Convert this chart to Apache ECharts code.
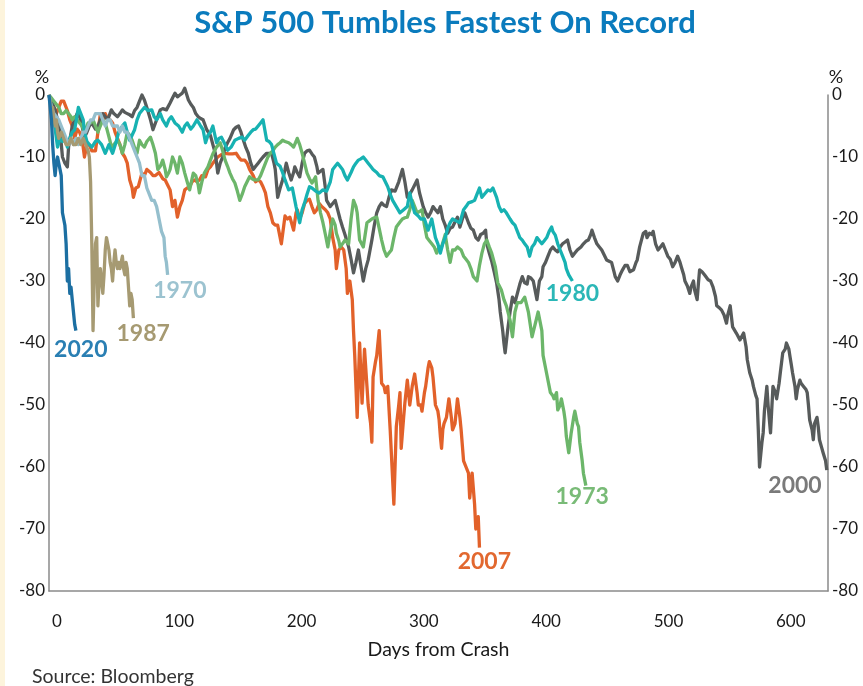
<!DOCTYPE html>
<html>
<head>
<meta charset="utf-8">
<script src="https://cdn.jsdelivr.net/npm/echarts@6/dist/echarts.min.js"></script>
<style>
html,body{margin:0;padding:0;background:#fff;}
#c{width:863px;height:686px;}
</style>
</head>
<body>
<div id="c"></div>
<script>
// ---- Data: [trading day from peak, % change from peak] ----
const s2020 = [[0,0],[1,-2],[2,-4],[3,-8],[4,-11],[5,-13],[6,-11],[7,-10],[8,-11],[9,-12],[10,-13],[11,-19],[12,-20],[13,-21],[14,-24],[15,-30],[16,-28],[17,-32],[18,-31],[19,-33],[20,-35],[21,-37],[22,-38]];

const s1987 = [[0,0],[1,-1],[2,-3],[3,-2],[4,-4],[5,-5],[6,-4],[7,-6],[8,-7],[10,-6],[12,-7],[14,-8],[16,-8],[18,-7],[20,-8],[22,-8],[24,-7],[26,-8],[28,-7],[30,-8],[32,-9],[33,-10],[34,-14],[35,-24],[36,-38],[37,-30],[38,-24],[39,-23],[40,-34],[41,-30],[42,-28],[43,-30],[44,-32],[45,-29],[46,-25],[47,-23],[48,-24],[49,-25],[50,-27],[51,-28],[52,-30],[53,-27],[54,-25],[55,-27],[56,-28],[57,-27],[58,-28],[59,-27],[60,-26],[61,-28],[62,-29],[63,-27],[64,-28],[65,-31],[66,-34],[67,-32],[68,-33],[69,-36]];

const s1970 = [[0,0],[2,-2],[4,-3],[6,-3.5],[8,-4],[10,-5],[12,-6],[14,-7],[16,-8],[18,-7],[20,-8],[22,-7],[24,-8],[26,-7],[28,-6],[30,-6],[32,-5],[34,-4],[36,-4],[38,-3],[40,-3],[42,-3],[44,-4],[46,-5],[48,-4],[50,-4],[52,-5],[54,-5],[56,-5],[58,-6],[60,-5],[62,-6],[64,-6],[66,-7],[68,-8],[70,-9],[72,-10],[74,-11],[76,-13],[78,-13],[80,-15],[82,-16],[84,-17],[86,-17],[88,-18],[90,-20],[92,-22],[94,-23],[95,-26],[96,-27],[97,-29]];

const s2007 = [[0,0],[2,-1],[4,-2],[6,-3],[8,-2],[10,-1],[12,-1],[13,-1],[15,-2.5],[17,-4],[19,-5],[21,-7],[23,-5.5],[25,-6],[27,-7],[29,-10],[31,-8],[33,-8],[35,-9],[38,-9],[40,-6],[42,-3],[44,-4],[46,-3],[48,-4],[50,-4],[52,-4.5],[54,-6],[56,-7],[58,-8],[60,-9.4],[62,-10],[64,-11],[66,-13.7],[68,-15],[69,-16.5],[71,-15],[73,-14.8],[76,-12.6],[78,-13],[80,-12],[83,-12.5],[85,-13],[87,-13],[90,-12.5],[93,-13.5],[95,-13.7],[97,-14.5],[99,-15.3],[101,-18],[103,-17],[105,-19.7],[107,-18],[109,-17],[111,-15.3],[113,-15],[115,-14.8],[117,-14],[119,-13.7],[121,-14],[123,-13.7],[125,-13],[128,-13.2],[130,-12],[132,-11.6],[134,-11],[136,-10.5],[138,-10],[141,-9.6],[144,-9.4],[147,-9.5],[150,-9.5],[153,-9.4],[155,-10],[157,-10.5],[160,-10.5],[162,-11],[164,-12],[167,-13],[169,-14],[171,-13.7],[173,-14],[175,-14.8],[177,-15.8],[179,-18],[181,-19],[183,-20.6],[185,-21],[187,-21],[188,-22],[190,-24],[192,-21],[193,-19.5],[195,-20],[197,-19.7],[198,-20],[200,-21.8],[202,-19],[203,-18.5],[205,-20],[207,-19],[209,-17.5],[211,-17],[213,-16.8],[215,-18],[217,-19],[219,-18.5],[221,-17.5],[223,-18],[226,-18.5],[228,-19],[230,-20],[232,-23],[234,-25],[235,-28],[237,-25],[239,-24.5],[241,-25],[243,-28],[244,-32],[246,-30],[248,-33],[249,-38],[250,-42],[252,-52],[254,-40],[256,-49.7],[258,-41],[260,-47],[261,-50],[263,-53],[264,-56],[265,-45.5],[267,-43],[268,-42],[270,-38],[272,-46.5],[274,-47],[275,-48],[277,-47],[279,-54],[280,-58],[282,-66],[284,-53.5],[286,-50],[287,-48],[288,-57],[290,-52],[291,-49.7],[293,-46],[295,-50],[297,-47],[299,-45],[301,-48],[302,-50],[304,-50],[305,-51],[307,-48],[308,-47],[310,-44],[311,-43],[313,-44],[314,-45.5],[316,-50],[318,-51],[319,-52.4],[320,-55],[321,-57],[322,-54],[323,-53],[325,-52],[327,-49],[329,-52],[330,-54],[332,-53],[334,-49],[336,-52],[337,-54],[339,-59],[341,-60],[343,-61],[344,-65],[346,-61],[348,-66],[349,-70],[351,-68],[352,-73]];

const s1980 = [[0,0],[2,-2],[4,-4],[5,-4],[7,-8.4],[9,-7],[11,-7.5],[13,-7],[15,-8.4],[17,-7],[19,-6],[21,-5.6],[24,-2],[26,-3],[28,-4],[29,-6],[31,-7.5],[33,-8],[35,-8.4],[38,-7.5],[40,-7.3],[43,-8],[46,-9.4],[49,-8],[52,-9.4],[55,-7.5],[57,-6],[60,-5],[62,-4.5],[64,-6],[66,-7.3],[70,-5.6],[72,-4],[74,-3],[76,-2.5],[78,-2],[81,-2.5],[84,-2.4],[86,-3.5],[88,-4],[91,-3],[93,-4],[96,-5],[98,-4],[100,-3.5],[103,-4.5],[106,-5],[109,-6],[111,-5],[113,-4.5],[116,-5.5],[118,-5],[121,-4],[124,-5],[126,-5.6],[128,-7.7],[130,-6.5],[132,-6],[134,-5],[137,-7.7],[139,-7],[141,-6.8],[144,-8],[146,-8.9],[149,-8.4],[152,-7.3],[155,-7],[158,-6.8],[160,-7.3],[163,-6.5],[165,-6],[167,-5.6],[169,-5.5],[171,-5],[173,-4.5],[175,-4],[178,-7.3],[180,-7.5],[182,-8],[184,-9.5],[186,-11],[189,-11.5],[191,-12.5],[193,-13.7],[196,-15.3],[199,-15],[202,-18],[205,-20.6],[207,-18.5],[209,-17.4],[211,-16],[213,-14.8],[215,-15],[218,-15.5],[221,-15.8],[224,-15.3],[227,-15.5],[230,-14],[232,-12],[234,-11.5],[236,-11],[238,-11.5],[240,-12],[242,-13],[244,-13.7],[247,-12.5],[249,-11.6],[251,-11],[253,-10.5],[255,-10.3],[257,-10],[259,-10.5],[261,-11],[263,-11.5],[265,-12],[268,-12.5],[270,-13],[273,-13.2],[275,-14],[277,-14.8],[279,-16],[281,-17],[284,-18],[287,-19],[290,-18.5],[293,-18],[295,-15.8],[297,-17.5],[299,-19],[302,-19.5],[304,-20],[307,-20],[310,-21.8],[313,-20],[316,-23],[318,-24],[320,-25.5],[322,-24],[324,-23],[326,-21.5],[328,-20.6],[330,-20],[333,-20.3],[336,-20.6],[339,-18.5],[341,-18],[343,-17.4],[346,-17.2],[348,-17],[350,-16],[352,-15],[354,-16.5],[356,-16],[359,-15.3],[361,-15.5],[363,-15],[366,-16.5],[368,-18],[370,-18.8],[372,-18.5],[374,-19],[377,-20],[379,-20.6],[381,-21],[383,-22],[385,-23],[387,-23.4],[389,-24],[391,-24.5],[393,-26],[395,-24.5],[397,-24],[399,-23],[401,-23.5],[403,-24],[405,-23.5],[407,-23],[409,-22],[411,-21.3],[412,-22],[414,-22.6],[416,-24],[418,-25],[420,-26],[422,-27],[423,-28],[425,-29],[428,-30]];

const s1973 = [[0,0],[2,-0.5],[4,-1],[6,-1.5],[8,-2],[10,-3],[12,-3],[14,-2.5],[16,-3],[18,-3.5],[19,-4],[21,-3.5],[23,-4],[25,-4.5],[27,-5],[29,-6],[31,-5],[32,-4.5],[34,-4.5],[36,-4],[38,-5],[40,-6],[42,-5],[44,-4],[46,-4.5],[48,-6],[50,-7.5],[51,-8.4],[53,-8],[56,-7.3],[58,-8],[60,-9.4],[62,-8],[64,-6],[66,-6.5],[68,-7.3],[70,-8.5],[72,-9.4],[74,-7.3],[76,-8],[78,-8.4],[80,-7.5],[83,-6.8],[85,-8],[87,-9.4],[89,-12],[91,-11.5],[93,-10.5],[95,-12],[96,-13.2],[98,-12.5],[99,-12],[101,-10],[103,-11],[105,-12.6],[107,-10],[109,-11],[111,-12.6],[113,-14],[115,-15.3],[117,-13.5],[118,-12.6],[120,-13],[122,-14.5],[123,-15.8],[125,-14],[127,-12.6],[130,-11.6],[132,-10.5],[134,-9.5],[137,-8.4],[140,-7.7],[142,-9],[144,-10.5],[146,-11.5],[148,-12.6],[150,-13.5],[152,-14.2],[154,-15.5],[156,-17],[158,-16],[160,-14.8],[162,-14],[164,-13.2],[166,-13.5],[168,-13.7],[171,-13.7],[173,-13],[175,-12],[177,-11],[179,-10],[181,-9.4],[183,-9],[185,-8.4],[187,-8],[189,-7.7],[191,-7.3],[193,-7.5],[196,-7.7],[198,-8],[200,-8.4],[202,-7.5],[203,-7],[205,-8],[207,-9.4],[209,-11],[211,-12.6],[213,-13.5],[215,-14.2],[218,-13.2],[220,-17],[222,-19],[224,-20.6],[226,-22.5],[228,-24.5],[230,-22],[232,-20],[234,-21],[235,-22.3],[237,-23.5],[238,-24.5],[240,-24],[242,-23.4],[245,-24],[247,-20],[249,-17],[251,-18],[252,-19],[254,-23.4],[257,-24.5],[260,-20.6],[262,-20.3],[264,-20],[266,-19.8],[268,-19.7],[270,-21.5],[272,-23.4],[274,-25],[276,-26],[278,-25.5],[280,-25],[282,-23],[284,-21.3],[287,-20.5],[289,-20],[291,-19.8],[293,-19.7],[295,-18.5],[297,-17],[299,-18],[301,-19],[303,-18.8],[305,-18.5],[307,-21],[309,-23],[311,-23.5],[313,-24],[315,-24.5],[317,-25.5],[319,-24.5],[321,-24.5],[324,-22.5],[326,-25],[328,-27],[330,-25],[332,-25],[334,-24.5],[337,-25],[339,-26],[341,-26.5],[343,-27],[345,-28],[347,-29.3],[350,-30],[352,-27.5],[354,-25.5],[356,-24],[358,-23.4],[360,-24.5],[362,-25.5],[365,-27.7],[367,-30.3],[370,-31.5],[372,-33],[374,-34],[377,-36.3],[379,-39],[381,-35],[383,-33.5],[386,-33.5],[389,-32.6],[392,-35],[395,-39],[397,-37.4],[400,-35],[403,-38],[404,-42],[406,-44],[407,-45],[409,-47],[410,-48],[412,-48.5],[413,-49],[415,-48],[416,-50.8],[418,-50],[419,-49],[421,-51],[422,-52.4],[423,-55],[425,-57.7],[427,-54.5],[429,-52],[430,-51],[432,-53],[433,-53.5],[434,-56],[436,-59],[437,-61],[438,-62],[439,-63]];

const s2000 = [[0,0],[2,-1],[5,-2.4],[7,-4],[9,-5.6],[11,-10],[13,-11],[15,-11.6],[16,-8.4],[19,-5],[21,-4],[23,-3],[25,-3.5],[27,-5],[29,-6.8],[31,-6],[33,-5],[35,-4.5],[38,-5.5],[40,-5],[42,-4],[44,-3],[46,-3.5],[48,-4],[51,-2.4],[53,-3],[56,-3.5],[58,-3],[60,-2.4],[62,-2.8],[64,-3],[66,-3.2],[68,-3.5],[70,-2.5],[72,-2],[74,-1],[76,0],[78,-0.8],[80,-2],[83,-4],[85,-5.6],[88,-4],[91,-2.4],[93,-2.2],[96,-2.4],[99,-1.3],[101,-0.5],[103,0.3],[105,-0.3],[107,0],[109,0.3],[111,1.1],[114,-0.8],[116,-1.5],[118,-2],[120,-3],[122,-3.5],[124,-3.8],[126,-4],[129,-5.6],[132,-6.5],[134,-8],[136,-9.4],[138,-12.6],[140,-11],[142,-10],[144,-8.5],[146,-7.7],[148,-7],[151,-5.6],[153,-5.2],[155,-5],[157,-6],[159,-7.3],[161,-8.5],[163,-9.4],[165,-11],[167,-12],[169,-11.5],[171,-11],[173,-10.5],[175,-10],[178,-9.4],[180,-9.4],[182,-9.4],[184,-11],[185,-12],[187,-16.5],[189,-15],[191,-13.7],[193,-12],[194,-11],[196,-12.5],[198,-13.7],[200,-12.5],[201,-11.6],[203,-12.5],[205,-13.2],[207,-11],[209,-9.4],[211,-9],[213,-8.9],[215,-9.5],[217,-10],[219,-11.5],[220,-12.6],[222,-12.3],[224,-12],[226,-15],[227,-17],[230,-18],[232,-17.5],[234,-17],[236,-18.5],[238,-20],[240,-21.3],[242,-22.5],[245,-24.5],[247,-26.5],[249,-28.7],[251,-27],[253,-25],[255,-27.5],[257,-30],[259,-28],[261,-26.6],[264,-23.4],[266,-21],[268,-19],[270,-18],[272,-17.4],[274,-17.8],[276,-18],[278,-16.5],[280,-15.3],[283,-15.5],[286,-14],[289,-12],[291,-14],[293,-16.5],[295,-16],[297,-15.3],[299,-14.5],[301,-13.7],[303,-15.8],[306,-18],[308,-19],[310,-19.7],[312,-19],[314,-18],[316,-18.5],[318,-19],[320,-18],[322,-20],[324,-21],[326,-22.3],[328,-21.5],[330,-21.3],[332,-20.5],[334,-19.7],[336,-21.3],[338,-20],[340,-19],[343,-20.6],[345,-21.5],[347,-21.8],[349,-23],[351,-23.4],[353,-22.5],[355,-22.3],[357,-21.8],[358,-24],[360,-25.5],[362,-26.8],[364,-28.5],[366,-30.3],[368,-33],[369,-35],[371,-38],[372,-40],[373,-41.6],[375,-38],[377,-35],[379,-32.6],[381,-33.5],[383,-32],[385,-30.5],[387,-29.3],[389,-30.3],[391,-30.5],[392,-29.3],[394,-29.5],[396,-30],[398,-32],[399,-33],[401,-30],[403,-29.3],[404,-27.7],[406,-27],[408,-26],[410,-25],[412,-24.5],[414,-25],[416,-25.3],[418,-24.5],[420,-24],[422,-23.7],[424,-23.4],[426,-25],[428,-26],[430,-25.5],[432,-25],[435,-24.5],[437,-24],[439,-23.6],[441,-23.4],[443,-22.5],[444,-21.8],[446,-23],[448,-24],[450,-24.5],[452,-25],[454,-25.8],[456,-26.6],[458,-26.8],[460,-27],[462,-28.5],[463,-29.3],[465,-30],[467,-29],[469,-28.2],[471,-27.5],[473,-27.5],[475,-28.5],[478,-28.2],[480,-27],[481,-26.6],[483,-24.5],[485,-23],[486,-22.3],[488,-22],[489,-23],[491,-22.3],[493,-22.5],[494,-22],[496,-24],[498,-25],[500,-24.5],[502,-24],[504,-25],[506,-26],[508,-26.5],[510,-27.7],[512,-27],[514,-26],[516,-27],[517,-27.7],[519,-29],[520,-30],[522,-30.8],[524,-32],[525,-31],[527,-30],[528,-31.5],[530,-33],[531,-30.5],[532,-28.2],[534,-28.5],[536,-29],[539,-29.8],[541,-30],[543,-31],[545,-32.5],[546,-34],[548,-34.3],[550,-34.7],[552,-35.5],[554,-36.8],[555,-35.5],[557,-34],[559,-37.4],[562,-38.4],[565,-39.5],[568,-38.4],[570,-40.6],[571,-42.7],[573,-44.8],[575,-46],[576,-47],[578,-48.5],[579,-49],[580,-54],[581,-60],[583,-56],[584,-54.5],[585,-51],[587,-47],[588,-50],[590,-54.5],[592,-47],[594,-48],[595,-49],[597,-46.5],[598,-44.8],[600,-41.6],[602,-41],[603,-40],[605,-41],[606,-42.3],[607,-43.5],[608,-44.8],[610,-47],[611,-49],[612,-47.5],[614,-46],[615,-46.5],[617,-47],[619,-47.5],[620,-48],[621,-50],[622,-52.4],[624,-54],[625,-55.6],[626,-53],[628,-52],[629,-53.5],[630,-55.6],[632,-57],[633,-57.7],[635,-59],[636,-60.5]];

const seriesNames = ['2007','2000','1973','1980','1970','1987','2020'];
const seriesData  = [s2007, s2000, s1973, s1980, s1970, s1987, s2020];
const yTicks = [-80,-70,-60,-50,-40,-30,-20,-10,0];
const xTicks = [0,100,200,300,400,500,600];

// ---- Styling ----
const colors = {'2020':'#1c6fa2','1987':'#a69a72','1970':'#95bfcd','2007':'#e2612a','1980':'#17b2b2','1973':'#6cb66a','2000':'#575b5b'};
const labelColors = {'2020':'#2a7fb3','1987':'#a69a72','1970':'#9cc3d0','2007':'#e2682f','1980':'#2bb7b7','1973':'#79bb77','2000':'#7a7a7a'};
// label anchor in data coords (day, %)
const labelAnchor = {'2020':[26,-41],'1987':[77,-38.4],'1970':[107,-31.5],'2007':[356,-75.3],'1980':[428,-32],'1973':[436,-64.8],'2000':[610,-63]};

const FONT = 'Lato, "Open Sans", sans-serif';
const chart = echarts.init(document.getElementById('c'), null, {renderer:'canvas'});

const axisLineStyle = {color:'#8a8a8a', width:1.5};
const yAxisCommon = {
  type:'value', min:-80, max:0, interval:10,
  splitLine:{show:false}, axisTick:{show:false},
  axisLine:{show:true, lineStyle:axisLineStyle},
  name:'%', nameLocation:'end', nameGap:8,
};

chart.setOption({
  animation:false,
  backgroundColor:'#ffffff',
  textStyle:{fontFamily:FONT},
  title:[{
    text:'S&P 500 Tumbles Fastest On Record',
    left:440, top:2, textAlign:'center',
    textStyle:{fontFamily:FONT, fontSize:31, fontWeight:'bold', color:'#0a7bbd'}
  },{
    text:'Source: Bloomberg', left:27, top:662,
    textStyle:{fontFamily:FONT, fontSize:19.5, fontWeight:'normal', color:'#333'}
  }],
  grid:{left:49, right:35, top:95, bottom:95, containLabel:false},
  xAxis:{
    type:'value', min:0, max:637, interval:100,
    splitLine:{show:false}, axisTick:{show:false},
    axisLine:{show:true, onZero:false, lineStyle:axisLineStyle},
    axisLabel:{fontFamily:FONT, fontSize:17, color:'#1a1a1a', margin:22, padding:[0,0,0,16], showMaxLabel:false,
      formatter:v => xTicks.includes(v) ? String(v) : ''},
    name:'Days from Crash', nameLocation:'middle', nameGap:49,
    nameTextStyle:{fontFamily:FONT, fontSize:19.5, color:'#1a1a1a'}
  },
  yAxis:[
    Object.assign({}, yAxisCommon, {
      position:'left',
      axisLabel:{fontFamily:FONT, fontSize:17, color:'#1a1a1a', margin:4,
        formatter:v => yTicks.includes(v) ? String(v) : ''},
      nameTextStyle:{fontFamily:FONT, fontSize:18, color:'#1a1a1a', padding:[0,14,0,0]}
    }),
    Object.assign({}, yAxisCommon, {
      position:'right',
      axisLabel:{fontFamily:FONT, fontSize:17, color:'#1a1a1a', margin:4,
        formatter:v => yTicks.includes(v) ? String(v) : ''},
      nameTextStyle:{fontFamily:FONT, fontSize:18, color:'#1a1a1a', padding:[0,0,0,16]}
    })
  ],
  series: seriesNames.map((n,i) => ({
    name:n, type:'line', data:seriesData[i], showSymbol:false, symbol:'none',
    clip:false, smooth:false,
    lineStyle:{color:colors[n], width:3.3, join:'round'},
    z: 2 + i
  }))
});

// series labels as text, positioned from data coordinates
const g = seriesNames.map(n => {
  const p = chart.convertToPixel({gridIndex:0}, labelAnchor[n]);
  return {type:'text', x:p[0], y:p[1], z:100,
    style:{text:n, fill:labelColors[n], font:'bold 23px ' + FONT, textAlign:'center', textVerticalAlign:'middle'}};
});
g.push({type:'rect', shape:{x:0,y:0,width:5,height:686}, style:{fill:'#fdf4dc'}, z:-1});
chart.setOption({graphic:g});
</script>
</body>
</html>
